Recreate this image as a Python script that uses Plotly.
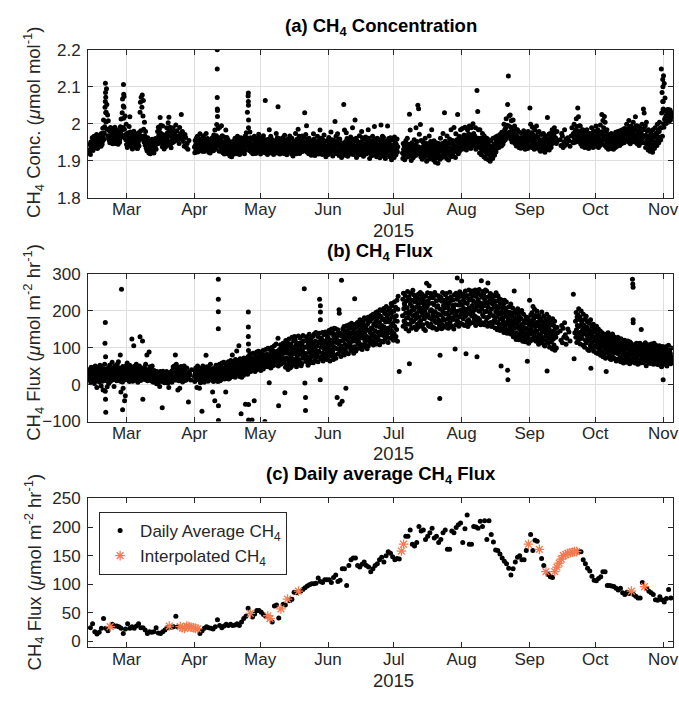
import datetime as dt
import plotly.graph_objects as go

start = dt.datetime(2015, 2, 12)
x_range = ['2015-02-11 09:30', '2015-11-05 12:00']
month_ticks = ['2015-03-01', '2015-04-01', '2015-05-01', '2015-06-01', '2015-07-01',
               '2015-08-01', '2015-09-01', '2015-10-01', '2015-11-01']
month_labels = ['Mar', 'Apr', 'May', 'Jun', 'Jul', 'Aug', 'Sep', 'Oct', 'Nov']

# (a) CH4 concentration, ppb (nmol/mol), one row per day from 2015-02-12
conc_ppb = [
 [1921,1944,1930,1917,1951,1936],[1947,1933,1962,1940,1928,1955],[1938,1966,1951,1935,1959,1944],
 [1952,1940,1971,1946,1933,1961],[1936,1958,1945,1969,1950,1941],[1963,1948,1939,1974,1955,1944],
 [1952,1988,1967,2010,1958,1975],[1992,2045,2110,2072,2031,2095],[2052,1985,2024,1968,2008,1961],
 [1957,1981,1949,1968,1990,1962],[1975,1950,1984,1961,1946,1970],[1962,1988,1954,1977,1991,1966],
 [1947,1972,1958,1983,1951,1964],[1968,1945,1979,1956,1971,1950],[1959,1992,1974,2013,1965,1983],
 [2030,2067,1990,2048,2015,2074],[1985,1962,2021,1971,1957,1999],[1944,1968,1936,1975,1953,1960],
 [1962,1993,1951,2019,1978,1947],[1939,1958,1972,1946,1932,1964],[1956,1943,1980,1937,1965,1951],
 [1968,1941,1955,1972,1947,1934],[1933,1962,1949,1976,1940,1957],[1970,2031,2058,1981,2072,1959],
 [2045,2078,1966,2021,2063,1985],[1951,2004,1968,1942,1979,1957],[1934,1956,1927,1949,1962,1941],
 [1945,1921,1938,1956,1930,1919],[1927,1952,1940,1923,1958,1935],[1942,1929,1950,1921,1937,1946],
 [1936,1960,1944,1931,1955,1948],[1958,1979,1946,1991,1968,1953],[1986,1962,2017,1975,1996,1957],
 [1949,1972,1938,1994,1961,1944],[1953,1932,1970,1945,1960,1938],[1968,1947,1989,1958,1976,1942],
 [2003,1966,2018,1982,1951,1991],[1944,1968,1935,1979,1955,1949],[1962,1989,1951,1973],
 [1978,1956,1997,1966],[1981,1955,1968],[1947,1990,1962,1974],[2025,1958,1979,1966],
 [1952,1939,1971],[1963,1936,1947],[1931,1955],[],[],
 [1937,1922,1955,1943,1929,1961],[1949,1931,1966,1924,1957,1940],[1928,1958,1945,1973,1936,1951],
 [1955,1933,1947,1926,1962,1940],[1941,1968,1925,1952,1935,1959],[1929,1950,1974,1938,1957,1944],
 [1960,1936,1948,1923,1953,1932],[1945,1921,1957,1938,1930,1951],[1933,1962,1941,1955,1927,1970],
 [1951,1937,1983,1946,1931,1962],[1968,1998,1942,2036,1955,1987],[1939,1962,1926,1991,1948,1957],
 [1957,1931,1995,1944,1968,1924],[1922,1947,1936,1964,1918,1952],[1944,1928,1983,1951,1935,1963],
 [1919,1940,1957,1928,1948,1933],[1935,1913,1951,1926,1944,1920],[1911,1934,1946,1921,1953,1929],
 [1942,1918,1930,1961,1925,1948],[1926,1951,1937,1919,1966,1943],[1948,1923,1956,1933,1917,1940],
 [1931,1962,1944,1922,1953,1937],[1954,1927,1941,1960,1933,1919],[1940,1967,1929,1951,1976,1945],
 [1962,2031,1947,2075,1989,1938],[1951,1927,1978,1941,1962,1933],[1923,1946,1934,1958,1919,1940],
 [1944,1929,1966,1937,1952,1925],[1920,1942,1957,1931,1947,1961],[1953,1936,1972,1927,1944,1960],
 [1938,1918,1949,1961,1930,1942],[1927,1955,1941,1968,1934,1950],[1946,1922,2063,1939,1957,1931],
 [1933,1950,1917,1944,1926,1958],[1948,1984,1935,1957,1926,1966],[1921,1943,1958,1932,1949,1937],
 [1939,1917,1952,1929,1944,1925],[1955,1932,1974,1943,1921,1962],[1936,2046,1951,1924,1960,1945],
 [1918,1941,1930,1957,1935,1948],[1944,1926,1962,1938,1951,1920],[1929,1969,1946,1921,1955,1937],
 [1942,1916,1934,1958,1927,1949],[1925,1953,1940,1967,1932,1946],[1948,1930,1918,1961,1942,1935],
 [1913,1937,1952,1926,1944,1931],[1936,1974,1927,1950,1919,1958],[1957,1933,1985,1945,1924,1966],
 [1920,1944,1938,1959,1929,1950],[1941,1967,1925,1952,1934,1946],[1963,1938,2030,1949,1927,1971],
 [1931,1995,1947,1923,1958,1940],[1945,1919,1961,1933,1950,1927],[1926,1940,1915,1954,1937,1947],
 [1948,1932,1973,1921,1959,1940],[1914,1935,1952,1928,1943,1920],[1937,1966,1929,1948,1918,1955],
 [1952,1924,1983,1940,1961,1933],[1929,1946,1917,1958,1936,1950],[1943,1970,1931,1921,1952,1938],
 [1911,1932,1954,1926,1940,1919],[1936,1917,1963,1944,1928,1951],[1922,1949,1978,1935,1957,1930],
 [1945,1913,1938,1956,1926,1940],[1931,2006,1947,1920,1966,1939],[1950,1927,1973,1941,1919,1958],
 [1914,1938,1959,1929,1946,1922],[1933,1909,1948,1924,1940,1918],[1925,2052,1946,1983,1932,1915],
 [1952,1937,1976,1921,1960,1944],[1912,1934,1957,1928,1945,1920],[1941,1918,1964,1933,1952,1927],
 [1929,1989,1946,1917,1958,1937],[1954,1923,2010,1940,1931,1961],[1909,1930,1953,1922,1944,1916],
 [1943,1916,1968,1935,1925,1950],[1920,1951,1979,1938,1962,1929],[1946,1912,1935,1958,1924,1941],
 [1927,1964,1918,1942,1930,1953],[1950,1921,1984,1939,1961,1933],[1906,1935,1952,1919,1944,1927],
 [1940,1914,1966,1930,1955,1922],[1925,1993,1948,1917,1959,1937],[1947,1911,1933,1961,1924,1942],
 [1918,1940,1956,1928,1908,1945],[1944,1997,1921,1957,1936,1966],[1913,1934,1963,1927,1948,1920],
 [1938,1906,1952,1929,1917,1944],[1921,1994,1945,1933,1960,1916],[1951,1911,1936,1962,1926,1941],
 [1903,1932,1957,1920,1943,1914],[1937,1909,1964,1928,1951,1922],[1916,1945,1930,1959,1924,1938],
 [],[],[1921,1906,1947,1931,1915,1940],
 [1903,1935,1926,1954,1918,1942],[1929,1961,1910,1944,1934,1919],[1945,2026,1922,1983,1913,1937],
 [1901,1925,1949,1917,1932,1908],[1936,1912,1957,1927,1943,1920],[1914,1989,1939,1925,1952,1931],
 [2050,1938,2041,1919,1972,1927],[1929,1998,1911,1955,1936,1921],[1904,1926,1951,1933,1916,1943],
 [1938,1910,1961,1923,1947,1929],[1899,1922,1946,1931,1914,1937],[1927,1967,1905,1940,1919,1952],
 [1912,1934,1984,1926,1948,1918],[1940,1902,1954,1921,1933,1911],[1896,1925,1949,1916,1938,1908],
 [1919,1893,1930,1947,1911,1926],[1935,1904,1961,1927,1944,1914],[1909,1947,1931,1974,1922,1939],
 [1928,2030,1913,1953,1939,1921],[1941,1906,1967,1930,1919,1948],[1902,1936,1924,1959,1915,1931],
 [1932,1984,1911,1946,1926,1955],[1918,1951,1938,1990,1929,1944],[1945,1909,1973,1931,1956,1924],
 [1957,2025,1936,1919,1948,1966],[1926,1961,1943,1984,1937,1952],[1949,1931,1987,1958,1941,1966],
 [1934,1970,1952,1991,1946,1959],[1955,1929,1964,1942,1984,1937],[1941,1973,1959,1994,1948,1966],
 [1962,1933,1989,1951,1970,1944],[1939,2000,1957,1974,1948,1965],[1967,1943,1989,1931,1955,1951],
 [2090,1946,2033,1961,1984,1937],[1952,1921,1984,1940,1961,1933],[1916,1949,1936,1974,1928,1957],
 [1944,1911,1967,1930,1953,1924],[1906,1939,1927,1961,1918,1947],[1930,1903,1957,1924,1941,1914],
 [1899,1926,1954,1918,1935,1909],[1937,1906,1961,1929,1944,1919],[1915,1946,1932,1964,1924,1953],
 [1949,1934,1967,1941,1958,1938],[1936,1962,1947,1971,1953,1942],[1958,1940,1977,1951,1966,1945],
 [1971,1952,1999,1963,1984,1956],[1987,1960,2014,1974,1996,1969],[2052,1967,2129,1994,2021,1978],
 [1978,2024,1959,1991,2008,1966],[1951,1982,1968,2010,1975,1957],[1964,1994,1947,1972,1985,1955],
 [1940,1966,1953,1984,1946,1961],[1957,1936,1977,1947,1962,1941],[1934,1955,1945,1974,1938,1951],
 [1961,1943,1981,1952,1936,1966],[1931,1950,1971,1944,1958,1937],[1948,1933,1979,1956,1940,1962],
 [1967,2043,1939,1999,1952,1976],[1936,1962,1991,1950,1971,1944],[1958,1931,1984,1945,1966,1939],
 [1941,1994,1953,1965,1934,1977],[1960,1937,1979,1948,1929,1955],[1926,1949,1971,1938,1957,1933],
 [1952,1929,1974,1944,1936,1961],[1923,1947,1967,1937,1955,1930],[1946,2017,1931,1959,1939,1972],
 [1929,1951,1974,1944,1962,1936],[1964,1946,1984,1957,1971,1952],[1949,1969,1989,1956,1978,1961],
 [1961,1947,1979,1954],[],[1957,1941,1974],[1967,1936,1951],[1984,1942,1959],[1946,1962],
 [1954,1939],[1967,1989,1951],
 [1974,1949,1999,1962,1955,1981],[1984,1951,2014,1969,1993,1960],[2043,1953,2019,1979,1966,1995],
 [1963,1994,1946,1971,1957,1982],[1939,1964,1984,1954,1971,1947],[1957,1936,1977,1949,1966,1943],
 [1944,1984,1961,1936,1972,1953],[1933,1954,1974,1947,1962,1940],[1964,1939,1989,1955,1976,1946],
 [1936,1959,1981,1949,1967,1942],[1954,1939,1994,1967,1945,1977],[1943,1984,1961,1936,1971,1952],
 [1969,1941,1997,1957,1978,1950],[2025,1977,1946,2009,1960,1989],[1969,2020,1941,2004,1956,1980],
 [1959,1936,1984,1949,1969,1944],[1931,1951,1971,1944,1959,1937],[1954,1933,1974,1947,1965,1940],
 [1941,1969,1931,1950,1958,1936],[1957,1936,1977,1947,1966,1943],[1939,1959,1979,1951,1968,1946],
 [1961,1941,1981,1954,1972,1948],[1946,1964,1984,1957,1975,1951],[1967,1949,1987,1959,1977,1955],
 [1954,1974,1999,1964,1986,1959],[1979,1951,2009,1967,1990,1960],[1946,1974,1994,1961,1983,1953],
 [1977,1954,2004,1964,1988,1970],[1951,1984,2019,1969,1995,1960],[1972,1946,1994,1959,1981,1953],
 [1941,1967,1989,1954,1976,1948],[1974,1951,1999,1961,1985,1968],[2040,1984,2029,1949,1966,1995],
 [1936,1969,2004,1954,1981,1946],[1959,1929,1984,1947,1968,1938],[1926,1954,1977,1941,1963,1933],
 [1957,1923,1984,1944,1969,1936],[1933,1964,1989,1951,1974,1943],[1971,1941,1999,1959,1983,1950],
 [1949,1979,2004,1964,1988,1956],[1989,2148,2029,2085,1966,2060],[2039,2130,1991,2109,2012,2070],
 [2017,2034,2001,2024,2009,2038],[2021,2004,2039,2014,2030,2008],[2024,2037,2010,2031,2019,2027],
]
conc_spike_day = [7.3, 7.4, 7.5, 7.6, 15.6, 15.7, 15.8, 58.4, 58.4, 58.4, 58.45, 58.5,
                  72.6, 72.6, 72.65, 72.7, 261.8, 261.9, 262.0, 262.1, 262.2]
conc_spike_ppb = [2060, 2085, 2030, 2005, 2106, 2080, 2045, 2200, 2148, 2071, 2040, 2020,
                  2083, 2060, 2050, 2010, 2120, 2100, 2060, 2040, 2000]

# (b) CH4 flux, umol m-2 hr-1, one row per day from 2015-02-12
flux_vals = [
 [28,12,41,22,35,5,47],[18,33,9,45,26,38,14],[40,21,3,31,15,50,27],[11,36,24,-8,44,19,30],
 [25,46,13,34,7,29,52],[37,16,48,-4,27,41,20],[9,30,-15,22,43,14,35],[55,112,-18,75,30,10,42],
 [20,-6,38,12,27,45,3],[33,15,52,24,8,41,28],[44,19,31,60,12,37,25],[14,39,-5,28,50,21,33],
 [27,48,16,36,10,55,22],[38,18,62,29,45,13,31],[22,80,9,-20,41,30,16],[35,7,49,-10,25,18,43],
 [26,12,44,-30,33,19,51],[40,22,58,14,33,27,47],[19,35,8,52,26,41,13],[31,48,17,123,24,39,9],
 [43,15,105,28,36,21,50],[24,38,12,55,30,46,18],[34,6,44,21,29,13,50],[20,129,38,11,45,27,33],
 [42,25,118,-40,31,16,37],[28,47,14,36,22,55,19],[17,35,80,24,10,40,29],[39,22,88,31,15,48,26],
 [25,11,42,19,33,50,8],[14,30,6,22,38,18,27],[21,8,33,15,26,2,35],[12,25,4,30,18,9,27],
 [23,-5,16,35,10,28,14],[8,27,-63,19,36,13,24],[17,32,5,22,11,29,20],[26,10,35,18,4,23,13],
 [5,21,-8,14,30,18,9],[22,11,34,17,28,6,38],[32,18,48,25,40,12,50],[21,44,80,33,12,55,27],
 [38,15,29,-15,46,24,10],[27,42,-10,18,35,23,49],[14,31,45,22,7,38,26],[36,19,50,28,11,41,24],
 [30,12,45,23],[18,-47,33,25],[27,12,40],[],
 [22,8,37,29,45,14,31],[35,-8,24,50,16,41,28],[13,30,-10,42,22,5,36],[27,44,18,-72,33,9,50],
 [40,15,29,6,37,21,45],[19,34,79,25,12,48,30],[31,9,42,22,15,38,26],[44,20,55,31,12,36,27],
 [16,33,-20,25,43,8,30],[28,45,-44,19,37,12,52],[34,15,50,26,41,8,22],[25,42,18,55,31,10,38],
 [36,14,48,28,58,22,40],[19,40,27,60,33,15,46],[42,28,-20,35,55,17,30],[24,48,33,62,15,40,29],
 [37,18,52,30,65,25,44],[29,50,80,22,42,62,35],[45,26,58,36,20,68,40],[33,52,91,28,45,65,38],
 [48,30,105,42,22,58,70],[36,55,-79,45,20,68,40],[52,32,60,25,72,44,50],[40,58,-53,30,48,70,35],
 [45,62,28,75,52,35,58],[58,42,82,50,68,35,62],[47,72,-96,60,38,85,55],[66,44,-44,52,82,35,70],
 [55,75,40,88,60,48,68],[72,50,90,62,42,78,58],[45,68,38,85,55,72,62],[76,50,92,42,66,58,80],
 [62,-100,80,48,95,70,56],[55,82,65,48,98,72,60],[70,5,62,95,50,80,45],[85,58,100,68,50,75,92],
 [62,88,52,105,70,60,78],[80,55,110,72,62,90,68],[68,125,50,-57,85,78,95],[90,62,108,55,82,72,98],
 [75,92,58,112,65,85,102],[63,104,-22,88,47,119,72],[97,52,116,70,85,41,108],[58,123,91,66,104,45,80],
 [110,74,49,96,128,61,87],[69,101,118,54,83,130,92],[121,63,88,107,48,95,73],[79,112,56,131,92,67,104],
 [99,60,126,82,113,51,90],[57,108,94,71,133,86,118],[118,259,76,4,101,-35,63],[84,129,62,103,75,117,52],
 [111,67,95,136,58,88,122],[72,104,126,81,60,115,97],[130,88,59,108,77,137,100],[66,117,92,141,74,103,83],
 [105,78,130,62,116,90,139],[88,231,114,13,70,126,101],[124,76,109,141,85,64,118],[71,135,96,117,81,142,104],
 [113,84,138,68,99,125,90],[128,75,106,146,88,117,64],[95,139,78,120,150,86,108],[142,89,117,68,131,101,152],
 [80,126,98,151,71,114,136],[121,-35,97,148,83,133,110],[202,193,94,-53,139,118,76],[104,282,131,-45,88,150,119],
 [138,96,157,80,124,109,145],[90,-10,131,159,104,142,121],[147,101,83,126,162,114,135],[109,153,128,92,140,166,100],
 [161,117,96,139,151,85,128],[102,232,141,118,163,91,134],[154,121,97,168,110,142,131],[115,160,139,99,175,126,148],
 [144,108,170,127,95,158,136],[169,125,147,103,181,138,116],[110,158,131,176,120,149,97],[163,127,182,105,146,119,172],
 [124,171,140,112,186,153,130],[178,118,150,136,190,107,162],[133,165,114,183,145,125,195],[172,110,158,197,129,181,141],
 [121,189,142,168,108,202,155],[185,134,200,117,160,146,176],[139,178,115,206,156,131,192],[196,124,169,148,211,137,180],
 [128,187,152,114,200,170,143],[206,141,176,125,193,158,219],[146,213,131,184,165,199,120],[198,138,223,157,174,127,209],
 [130,186,149,228,171,117,204],[239,35],[],[186,231,158,247,205,172,219],
 [214,167,240,193,151,226,180],[163,208,252,181,229,196,145],[237,56,190,163,218,246,175],[199,152,228,211,170,255,186],
 [171,243,202,156,224,189,233],[226,179,149,210,192,238,164],[155,217,245,183,201,167,230],[208,249,173,222,158,195,241],
 [244,187,162,231,206,150,215],[178,223,196,146,239,185,207],[274,166,212,248,189,227,159],[219,267,181,157,235,199,246],
 [163,202,238,176,220,153,189],[235,180,154,216,197,249,171],[196,242,168,227,149,209,184],[151,213,190,240,174,229,161],
 [-38,79,204,170,236,188,151],[225,162,249,196,179,214,158],[174,228,207,155,243,191,221],[246,193,164,233,177,210,152],
 [189,155,221,202,250,168,234],[160,237,181,228,195,156,214],[229,176,207,150,242,199,185],[96,216,162,247,189,231,173],
 [288,198,170,236,215,158,244],[183,251,224,166,202,239,190],[280,164,215,193,245,178,228],[206,237,160,222,185,253,197],
 [83,188,241,170,219,204,157],[233,175,256,208,164,229,192],[168,244,199,231,186,253,214],[241,193,167,225,206,178,249],
 [202,256,184,160,238,219,173],[75,211,248,180,230,165,199],[257,176,221,198,243,162,212],[281,205,167,236,189,252,219],
 [184,247,213,162,229,197,256],[236,171,199,253,181,220,158],[275,209,183,238,165,226,195],[192,246,168,221,204,157,234],
 [163,218,241,186,227,172,209],[239,176,153,214,197,248,168],[184,226,148,205,240,167,193],[211,158,232,178,146,219,190],
 [50,196,229,163,207,150,181],[172,218,141,193,228,160,206],[205,150,184,223,167,139,196],[39,13,176,210,148,188,162],
 [158,195,137,218,172,149,184],[186,143,207,161,129,194,170],[253,152,180,136,199,165,122],[140,191,167,128,205,155,178],
 [172,121,185,150,196,138,160],[133,178,147,200,126,164,117],[159,119,190,141,172,128,153],[116,167,136,183,124,150,175],
 [63,149,127,180,112,162,140],[228,136,171,118,189,150,162],[145,194,124,166,211,138,178],[180,131,204,157,120,187,146],
 [117,168,142,198,129,159,183],[161,109,187,135,172,121,150],[134,177,114,160,196,142,125],[170,120,152,185,108,143,163],
 [104,158,131,176,119,147,190],[37,140,168,112,155,126,182],[149,101,173,130,161,115,140],[118,165,135,96,178,145,123],
 [160,107,142,171,93,131,152],[128,99,155,140],[],[145,120,160],
 [113,152,128],[167,135,109],[125,150],[142,118],
 [],[244,70,140],[171,128,195,148,114,183,160],[139,188,120,205,157,176,131],
 [182,110,160,142,199,125,168],[125,173,148,106,190,137,158],[160,101,138,177,119,150,185],[113,155,132,170,95,146,124],
 [148,92,166,121,139,105,175],[44,135,112,158,98,128,147],[130,163,90,142,118,153,104],[101,145,122,86,158,114,134],
 [139,84,117,150,98,128,108],[94,126,145,79,113,135,102],[124,140,88,108,75,131,117],[82,118,97,136,110,71,126],
 [35,104,129,87,115,96,140],[112,78,98,132,90,121,69],[92,125,68,106,118,84,137],[117,74,101,130,86,109,95],
 [70,108,122,90,64,114,99],[103,84,128,68,112,95,119],[89,116,75,100,62,124,107],[121,66,94,111,82,102,58],
 [77,108,90,120,69,97,113],[98,60,114,83,104,74,118],[110,82,65,101,93,56,115],[68,97,112,79,104,88,61],
 [285,272,263,92,70,106,81],[95,58,109,77,88,64,112],[72,101,86,55,97,110,79],[104,67,90,112,58,83,96],
 [149,84,62,99,73,107,90],[59,92,79,106,68,87,113],[97,70,51,88,104,63,82],[75,108,86,61,95,72,102],
 [90,57,99,74,110,83,65],[66,94,79,104,55,88,112],[101,72,58,92,81,106,69],[62,88,97,54,76,100,83],
 [85,60,105,71,93,52,78],[98,74,48,89,64,103,57],[13,67,90,79,55,98,72],[80,102,61,92,70,50,87],
 [58,85,74,106,66,94,79],[91,69,84,56,99,75,63],
]
flux_spike_day = [7.3, 7.4, 7.5, 14.7, 15.2, 16.1, 58.9, 58.9, 58.9, 58.9, 58.95, 58.95,
                  72.6, 72.6, 72.6, 72.65, 72.65, 72.7, 72.7, 98.7, 98.7, 105.5, 105.5, 105.5,
                  248.3, 248.3]
flux_spike_val = [168, -40, -75, 258, -68, -44, 285, 231, 197, 151, -57, -97,
                  196, 156, 130, 110, 92, -54, -96, -70, 72, 213, 196, 175, 175, 167]

# (c) daily average flux (None = day filled by interpolation)
daily_avg = [
 24, 31, 17, 13, 16, 23, 40, 23, 19, None,
 30, 27, 27, 26, 23, 14, 22, 31, 23, 26,
 23, 27, 31, 24, 24, 20, 14, 17, 16, 17,
 24, 15, 14, 17, 20, 24, None, 25, 26, 44,
 26, None, None, None, None, None, None, None, None, None,
 14, 19, 23, 26, 24, 23, 22, 26, 38, 28,
 24, 27, 30, 28, 30, 28, 29, 31, 28, 34,
 40, 44, 58, None, 43, 48, 54, 54, 51, 47,
 44, None, None, 34, 62, 64, 41, None, 65, 64,
 None, 71, 74, 86, 85, None, 88, 91, 94, 97,
 99, 101, 101, 102, 111, 105, 103, 108, 108, 108,
 103, 112, 116, 105, 107, 127, 127, 98, 133, 143,
 146, 146, 133, 130, 135, 139, 133, 130, 122, 127,
 133, 136, 143, 147, 139, 150, 157, 154, 148, 143,
 145, 144, None, None, 184, 184, 195, 170, 167, 173,
 201, 193, 195, 178, 184, 190, 198, 181, 184, 173,
 178, 190, 195, 161, 161, 193, 190, 199, 204, 207,
 173, 197, 221, 170, 170, 201, 200, 198, 210, 201,
 211, 178, 211, 187, 174, 160, 159, 153, 146, 140,
 136, 128, 116, 127, 139, 147, 150, 143, 143, 159,
 None, 187, 159, 177, 175, None, 145, 133, None, 117,
 113, 112, None, None, None, None, None, None, None, None,
 None, None, None, 157, 157, 143, 136, 128, 123, 114,
 107, 106, 110, 113, 122, 122, 98, 98, 97, 96,
 93, 90, 93, 85, 82, 86, 84, None, 82, 79,
 76, 76, 103, None, 93, 88, 85, 82, 73, 72,
 78, 73, 69, 75, 91, 76,
]
interp_day = [9, 36, 41, 42, 43, 44, 45, 46, 47, 48, 49, 73, 81, 82, 87, 90, 95, 142, 143,
              200, 205, 208, 212, 213, 214, 215, 216, 217, 218, 219, 220, 221, 222, 247, 253]
interp_val = [26, 27, 26, 24, 23, 27, 26, 25, 24, 23, 22, 49, 45, 40, 57, 74, 88, 158, 170,
              170, 161, 122, 122, 130, 137, 144, 150, 152, 154, 155, 156, 157, 157, 88, 96]

ORANGE = '#f47a50'
INK = '#262626'
FONT = 'Liberation Sans, Arial, Helvetica, sans-serif'


def expand(rows):
    xs, ys = [], []
    for d, row in enumerate(rows):
        n = len(row)
        for i, v in enumerate(row):
            xs.append(start + dt.timedelta(days=d + i / max(n, 1)))
            ys.append(v)
    return xs, ys


ax_x, ay = expand(conc_ppb)
ay = [v / 1000 for v in ay]
sx = [start + dt.timedelta(days=d) for d in conc_spike_day]
sy = [v / 1000 for v in conc_spike_ppb]
bx, by = expand(flux_vals)
fx = [start + dt.timedelta(days=d) for d in flux_spike_day]
cx = [start + dt.timedelta(days=d + 0.5) for d in range(len(daily_avg))]
ix = [start + dt.timedelta(days=d + 0.5) for d in interp_day]

fig = go.Figure()
mk = dict(color='black', size=5)
fig.add_trace(go.Scatter(x=ax_x + sx, y=ay + sy, mode='markers', marker=mk,
                         xaxis='x', yaxis='y', showlegend=False, hoverinfo='skip'))
fig.add_trace(go.Scatter(x=bx + fx, y=by + flux_spike_val, mode='markers', marker=mk,
                         xaxis='x2', yaxis='y2', showlegend=False, hoverinfo='skip'))
fig.add_trace(go.Scatter(x=cx, y=daily_avg, mode='markers', marker=dict(color='black', size=5),
                         xaxis='x3', yaxis='y3', name='Daily Average CH<sub>4</sub>'))
fig.add_trace(go.Scatter(x=ix, y=interp_val, mode='markers',
                         marker=dict(symbol='asterisk-open', size=8, color=ORANGE,
                                     line=dict(color=ORANGE, width=1.3)),
                         xaxis='x3', yaxis='y3', name='Interpolated CH<sub>4</sub>'))

H = 702.0
def dom(top, bot):
    return [(H - bot) / H, (H - top) / H]

xcommon = dict(type='date', range=x_range, tickvals=month_ticks, ticktext=month_labels,
               showline=True, linecolor=INK, linewidth=1, mirror='ticks', ticks='inside',
               ticklen=5, tickcolor=INK, tickfont=dict(size=17, color=INK, family=FONT),
               ticklabelstandoff=-4, ticklabeloverflow='allow', zeroline=False,
               gridcolor='#dedede', gridwidth=1)
ycommon = dict(showline=True, linecolor=INK, linewidth=1, mirror='ticks', ticks='inside',
               ticklen=5, tickcolor=INK, tickfont=dict(size=17, color=INK, family=FONT),
               ticklabelstandoff=3, zeroline=False, gridcolor='#dedede', gridwidth=1)

fig.update_layout(
    width=679, height=702, margin=dict(l=88, r=5, t=0, b=0),
    paper_bgcolor='white', plot_bgcolor='white',
    font=dict(family=FONT, color=INK),
    xaxis=dict(xcommon, anchor='y', showgrid=True),
    yaxis=dict(ycommon, anchor='x', domain=dom(42, 194), range=[1.8, 2.2], dtick=0.1,
               tick0=1.8, showgrid=True),
    xaxis2=dict(xcommon, anchor='y2', showgrid=True),
    yaxis2=dict(ycommon, anchor='x2', domain=dom(272, 424), range=[-100, 300], dtick=100,
                showgrid=True),
    xaxis3=dict(xcommon, anchor='y3', showgrid=False),
    yaxis3=dict(ycommon, anchor='x3', domain=dom(503, 656), range=[-10, 250], dtick=50,
                tick0=0, showgrid=False),
    legend=dict(x=0.019, y=dom(517, 0)[1], xanchor='left', yanchor='top',
                bgcolor='white', bordercolor=INK, borderwidth=1,
                font=dict(size=17, color=INK, family=FONT), tracegroupgap=0),
)

def px_to_paper_y(py):
    return (H - py) / H

def px_to_paper_x(px):
    return (px - 88) / 586.0

annots = []
for text, py in [('<b>(a) CH<sub>4</sub> Concentration</b>', 18),
                 ('<b>(b) CH<sub>4</sub> Flux</b>', 250),
                 ('<b>(c) Daily average CH<sub>4</sub> Flux</b>', 479)]:
    annots.append(dict(text=text, x=px_to_paper_x(381), y=px_to_paper_y(py), xref='paper',
                       yref='paper', showarrow=False, xanchor='center', yanchor='middle',
                       font=dict(size=18.5, color='black', family=FONT)))
for py in [228, 457, 690]:
    annots.append(dict(text='2015', x=px_to_paper_x(394), y=px_to_paper_y(py), xref='paper',
                       yref='paper', showarrow=False, xanchor='center', yanchor='middle',
                       font=dict(size=18.5, color=INK, family=FONT)))
for text, py in [('CH<sub>4</sub> Conc. (<i>μ</i>mol mol<sup>-1</sup>)', 117),
                 ('CH<sub>4</sub> Flux (<i>μ</i>mol m<sup>-2</sup> hr<sup>-1</sup>)', 343),
                 ('CH<sub>4</sub> Flux (<i>μ</i>mol m<sup>-2</sup> hr<sup>-1</sup>)', 579)]:
    annots.append(dict(text=text, x=px_to_paper_x(34), y=px_to_paper_y(py), xref='paper',
                       yref='paper', showarrow=False, xanchor='center', yanchor='middle',
                       textangle=-90, font=dict(size=18.5, color=INK, family=FONT)))
fig.update_layout(annotations=annots)

fig.write_html('out.html')
